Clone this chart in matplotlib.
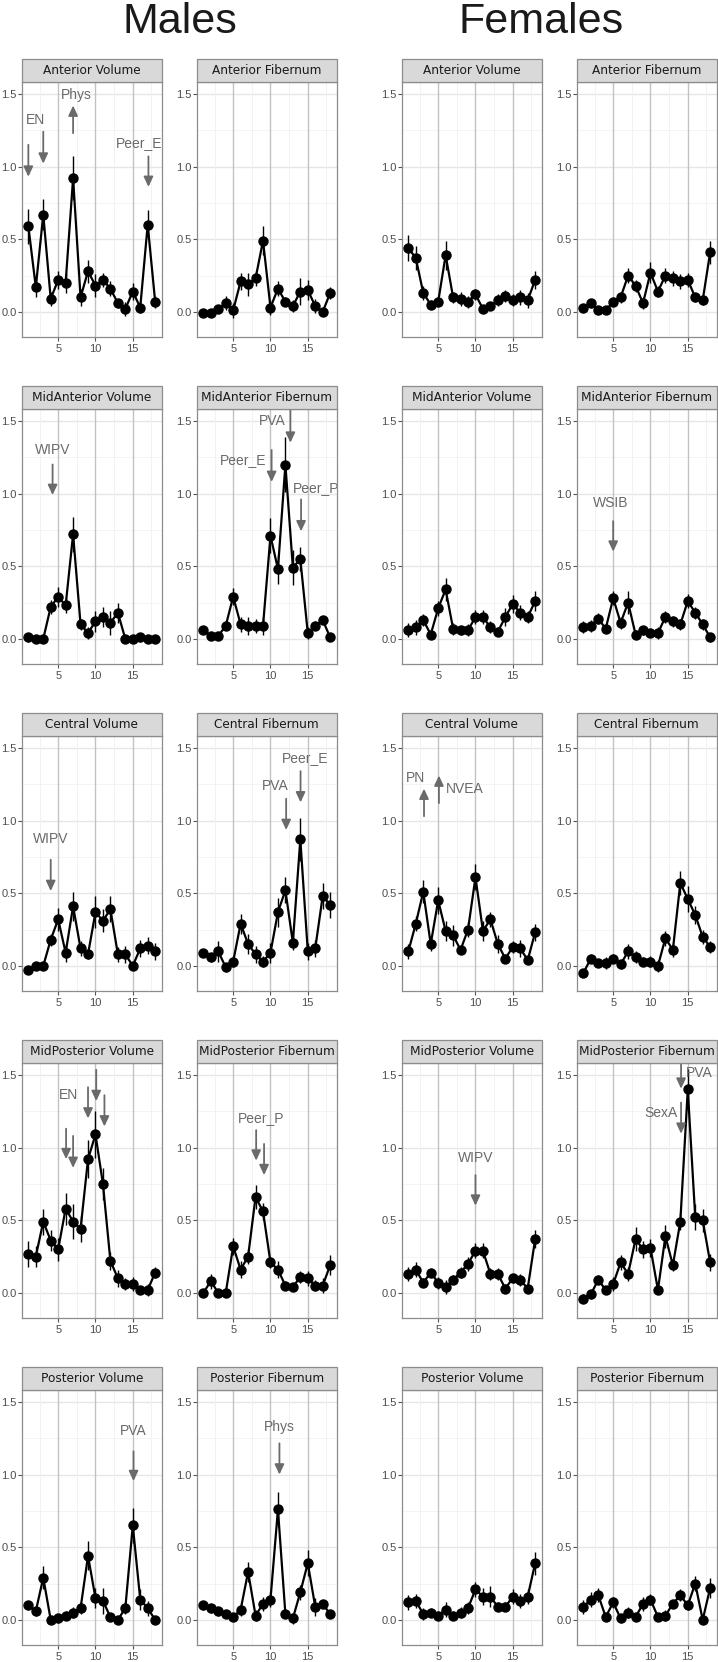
import matplotlib
matplotlib.use("Agg")
import matplotlib.pyplot as plt
from matplotlib.patches import Rectangle, FancyArrowPatch

plt.rcParams['font.family'] = ['Liberation Sans', 'DejaVu Sans']

x = list(range(1, 19))
regions = ["Anterior", "MidAnterior", "Central", "MidPosterior", "Posterior"]
measures = ["Volume", "Fibernum"]
sexes = ["Males", "Females"]

# values, one list per panel, plus error bar half-widths
male_anterior_volume = [0.59, 0.17, 0.67, 0.09, 0.22, 0.20, 0.92, 0.10, 0.28, 0.18, 0.22, 0.16, 0.06, 0.02, 0.14, 0.03, 0.60, 0.07]
male_anterior_volume_se = [0.12, 0.07, 0.11, 0.05, 0.06, 0.07, 0.15, 0.06, 0.08, 0.08, 0.05, 0.05, 0.03, 0.05, 0.06, 0.04, 0.10, 0.04]
male_anterior_fibernum = [-0.01, -0.01, 0.02, 0.06, 0.01, 0.21, 0.19, 0.23, 0.49, 0.03, 0.16, 0.07, 0.04, 0.14, 0.15, 0.04, 0.00, 0.13]
male_anterior_fibernum_se = [0.02, 0.02, 0.03, 0.05, 0.05, 0.06, 0.08, 0.05, 0.10, 0.05, 0.05, 0.03, 0.04, 0.09, 0.07, 0.05, 0.02, 0.04]
female_anterior_volume = [0.44, 0.37, 0.13, 0.05, 0.07, 0.39, 0.10, 0.09, 0.07, 0.12, 0.02, 0.04, 0.08, 0.11, 0.08, 0.10, 0.08, 0.22]
female_anterior_volume_se = [0.09, 0.08, 0.05, 0.03, 0.03, 0.10, 0.04, 0.05, 0.04, 0.04, 0.03, 0.03, 0.04, 0.04, 0.04, 0.05, 0.05, 0.06]
female_anterior_fibernum = [0.03, 0.06, 0.01, 0.01, 0.07, 0.10, 0.25, 0.18, 0.06, 0.27, 0.14, 0.25, 0.23, 0.21, 0.22, 0.10, 0.08, 0.41]
female_anterior_fibernum_se = [0.02, 0.03, 0.02, 0.02, 0.03, 0.04, 0.05, 0.04, 0.04, 0.07, 0.04, 0.05, 0.05, 0.05, 0.05, 0.03, 0.03, 0.08]

male_midanterior_volume = [0.01, 0.00, 0.00, 0.22, 0.29, 0.23, 0.72, 0.10, 0.04, 0.12, 0.15, 0.11, 0.18, 0.00, 0.00, 0.01, 0.00, 0.00]
male_midanterior_volume_se = [0.03, 0.03, 0.02, 0.05, 0.07, 0.05, 0.12, 0.04, 0.04, 0.07, 0.07, 0.08, 0.07, 0.02, 0.02, 0.03, 0.02, 0.02]
male_midanterior_fibernum = [0.06, 0.02, 0.02, 0.09, 0.29, 0.10, 0.09, 0.09, 0.09, 0.71, 0.48, 1.20, 0.49, 0.55, 0.04, 0.09, 0.13, 0.01]
male_midanterior_fibernum_se = [0.02, 0.02, 0.02, 0.03, 0.06, 0.05, 0.06, 0.05, 0.06, 0.12, 0.10, 0.19, 0.12, 0.08, 0.04, 0.03, 0.03, 0.02]
female_midanterior_volume = [0.06, 0.08, 0.13, 0.03, 0.21, 0.34, 0.07, 0.06, 0.06, 0.15, 0.15, 0.08, 0.05, 0.15, 0.24, 0.18, 0.15, 0.26]
female_midanterior_volume_se = [0.05, 0.05, 0.04, 0.03, 0.05, 0.08, 0.04, 0.03, 0.04, 0.05, 0.05, 0.04, 0.03, 0.06, 0.06, 0.05, 0.04, 0.07]
female_midanterior_fibernum = [0.08, 0.09, 0.14, 0.07, 0.28, 0.11, 0.25, 0.03, 0.06, 0.04, 0.04, 0.15, 0.12, 0.10, 0.26, 0.18, 0.10, 0.01]
female_midanterior_fibernum_se = [0.04, 0.04, 0.04, 0.03, 0.05, 0.04, 0.08, 0.03, 0.03, 0.03, 0.04, 0.04, 0.04, 0.04, 0.05, 0.04, 0.04, 0.03]

male_central_volume = [-0.03, 0.00, 0.00, 0.18, 0.32, 0.09, 0.41, 0.12, 0.08, 0.37, 0.31, 0.39, 0.08, 0.08, 0.00, 0.12, 0.14, 0.10]
male_central_volume_se = [0.02, 0.03, 0.03, 0.04, 0.08, 0.06, 0.10, 0.05, 0.03, 0.11, 0.08, 0.09, 0.05, 0.06, 0.03, 0.06, 0.06, 0.06]
male_central_fibernum = [0.09, 0.06, 0.10, -0.01, 0.03, 0.29, 0.15, 0.08, 0.03, 0.09, 0.37, 0.52, 0.16, 0.87, 0.10, 0.12, 0.48, 0.42]
male_central_fibernum_se = [0.02, 0.03, 0.07, 0.03, 0.04, 0.07, 0.07, 0.06, 0.04, 0.07, 0.10, 0.09, 0.05, 0.145, 0.06, 0.06, 0.09, 0.09]
female_central_volume = [0.10, 0.29, 0.51, 0.15, 0.45, 0.24, 0.21, 0.11, 0.25, 0.61, 0.24, 0.32, 0.15, 0.05, 0.13, 0.12, 0.04, 0.23]
female_central_volume_se = [0.05, 0.05, 0.08, 0.05, 0.09, 0.07, 0.07, 0.03, 0.05, 0.09, 0.07, 0.05, 0.06, 0.03, 0.04, 0.06, 0.03, 0.06]
female_central_fibernum = [-0.05, 0.05, 0.02, 0.02, 0.05, 0.01, 0.10, 0.06, 0.03, 0.03, 0.00, 0.19, 0.11, 0.57, 0.46, 0.35, 0.20, 0.13]
female_central_fibernum_se = [0.03, 0.03, 0.03, 0.04, 0.03, 0.03, 0.05, 0.04, 0.03, 0.04, 0.04, 0.05, 0.05, 0.08, 0.09, 0.06, 0.05, 0.04]

male_midposterior_volume = [0.27, 0.25, 0.49, 0.36, 0.30, 0.58, 0.49, 0.44, 0.92, 1.09, 0.75, 0.22, 0.10, 0.06, 0.06, 0.02, 0.02, 0.14]
male_midposterior_volume_se = [0.09, 0.07, 0.09, 0.07, 0.08, 0.11, 0.12, 0.09, 0.13, 0.16, 0.11, 0.06, 0.06, 0.04, 0.05, 0.03, 0.04, 0.04]
male_midposterior_fibernum = [0.00, 0.08, 0.00, 0.00, 0.32, 0.16, 0.25, 0.66, 0.56, 0.21, 0.16, 0.05, 0.04, 0.11, 0.10, 0.05, 0.05, 0.19]
male_midposterior_fibernum_se = [0.02, 0.05, 0.02, 0.02, 0.06, 0.06, 0.05, 0.08, 0.06, 0.04, 0.06, 0.03, 0.03, 0.04, 0.05, 0.04, 0.05, 0.07]
female_midposterior_volume = [0.13, 0.16, 0.07, 0.14, 0.07, 0.04, 0.09, 0.14, 0.20, 0.29, 0.29, 0.13, 0.13, 0.03, 0.10, 0.09, 0.03, 0.37]
female_midposterior_volume_se = [0.05, 0.05, 0.03, 0.03, 0.04, 0.05, 0.03, 0.04, 0.05, 0.05, 0.05, 0.04, 0.04, 0.03, 0.03, 0.04, 0.03, 0.06]
female_midposterior_fibernum = [-0.04, -0.01, 0.09, 0.02, 0.06, 0.21, 0.13, 0.37, 0.30, 0.31, 0.02, 0.39, 0.19, 0.49, 1.40, 0.52, 0.50, 0.21]
female_midposterior_fibernum_se = [0.03, 0.03, 0.03, 0.03, 0.05, 0.05, 0.05, 0.08, 0.06, 0.06, 0.03, 0.08, 0.04, 0.06, 0.14, 0.09, 0.08, 0.06]

male_posterior_volume = [0.10, 0.06, 0.29, 0.00, 0.01, 0.03, 0.05, 0.08, 0.44, 0.15, 0.13, 0.02, 0.00, 0.08, 0.65, 0.14, 0.08, 0.00]
male_posterior_volume_se = [0.03, 0.03, 0.08, 0.02, 0.03, 0.03, 0.04, 0.04, 0.10, 0.07, 0.09, 0.03, 0.02, 0.04, 0.12, 0.07, 0.05, 0.02]
male_posterior_fibernum = [0.10, 0.08, 0.06, 0.04, 0.02, 0.07, 0.33, 0.03, 0.11, 0.14, 0.76, 0.04, 0.01, 0.19, 0.39, 0.09, 0.11, 0.04]
male_posterior_fibernum_se = [0.03, 0.03, 0.03, 0.03, 0.02, 0.04, 0.07, 0.04, 0.05, 0.05, 0.12, 0.03, 0.04, 0.05, 0.09, 0.06, 0.03, 0.03]
female_posterior_volume = [0.12, 0.13, 0.04, 0.05, 0.03, 0.07, 0.03, 0.05, 0.08, 0.21, 0.16, 0.16, 0.09, 0.09, 0.16, 0.13, 0.16, 0.39]
female_posterior_volume_se = [0.05, 0.05, 0.04, 0.03, 0.03, 0.05, 0.03, 0.04, 0.04, 0.05, 0.06, 0.07, 0.03, 0.03, 0.05, 0.05, 0.05, 0.08]
female_posterior_fibernum = [0.09, 0.14, 0.17, 0.02, 0.12, 0.01, 0.05, 0.02, 0.11, 0.14, 0.02, 0.03, 0.11, 0.17, 0.10, 0.25, 0.00, 0.22]
female_posterior_fibernum_se = [0.05, 0.05, 0.05, 0.03, 0.04, 0.03, 0.04, 0.03, 0.05, 0.04, 0.03, 0.04, 0.03, 0.04, 0.03, 0.05, 0.02, 0.07]

series = {
    ("Males", "Anterior", "Volume"): (male_anterior_volume, male_anterior_volume_se),
    ("Males", "Anterior", "Fibernum"): (male_anterior_fibernum, male_anterior_fibernum_se),
    ("Females", "Anterior", "Volume"): (female_anterior_volume, female_anterior_volume_se),
    ("Females", "Anterior", "Fibernum"): (female_anterior_fibernum, female_anterior_fibernum_se),
    ("Males", "MidAnterior", "Volume"): (male_midanterior_volume, male_midanterior_volume_se),
    ("Males", "MidAnterior", "Fibernum"): (male_midanterior_fibernum, male_midanterior_fibernum_se),
    ("Females", "MidAnterior", "Volume"): (female_midanterior_volume, female_midanterior_volume_se),
    ("Females", "MidAnterior", "Fibernum"): (female_midanterior_fibernum, female_midanterior_fibernum_se),
    ("Males", "Central", "Volume"): (male_central_volume, male_central_volume_se),
    ("Males", "Central", "Fibernum"): (male_central_fibernum, male_central_fibernum_se),
    ("Females", "Central", "Volume"): (female_central_volume, female_central_volume_se),
    ("Females", "Central", "Fibernum"): (female_central_fibernum, female_central_fibernum_se),
    ("Males", "MidPosterior", "Volume"): (male_midposterior_volume, male_midposterior_volume_se),
    ("Males", "MidPosterior", "Fibernum"): (male_midposterior_fibernum, male_midposterior_fibernum_se),
    ("Females", "MidPosterior", "Volume"): (female_midposterior_volume, female_midposterior_volume_se),
    ("Females", "MidPosterior", "Fibernum"): (female_midposterior_fibernum, female_midposterior_fibernum_se),
    ("Males", "Posterior", "Volume"): (male_posterior_volume, male_posterior_volume_se),
    ("Males", "Posterior", "Fibernum"): (male_posterior_fibernum, male_posterior_fibernum_se),
    ("Females", "Posterior", "Volume"): (female_posterior_volume, female_posterior_volume_se),
    ("Females", "Posterior", "Fibernum"): (female_posterior_fibernum, female_posterior_fibernum_se),
}

# labels: (text, x, y); arrows: (x, y_from, y_to)
labels = {
    ("Males", "Anterior", "Volume"): [("EN", 2.0, 1.32), ("Phys", 7.4, 1.49), ("Peer_E", 15.8, 1.16)],
    ("Males", "MidAnterior", "Volume"): [("WIPV", 4.3, 1.30)],
    ("Males", "MidAnterior", "Fibernum"): [("PVA", 10.2, 1.50), ("Peer_E", 6.3, 1.23), ("Peer_P", 16.1, 1.04)],
    ("Females", "MidAnterior", "Fibernum"): [("WSIB", 4.7, 0.935)],
    ("Males", "Central", "Volume"): [("WIPV", 4.0, 0.87)],
    ("Males", "Central", "Fibernum"): [("PVA", 10.7, 1.24), ("Peer_E", 14.6, 1.43)],
    ("Females", "Central", "Volume"): [("PN", 1.9, 1.29), ("NVEA", 8.5, 1.22)],
    ("Males", "MidPosterior", "Volume"): [("EN", 6.4, 1.36)],
    ("Males", "MidPosterior", "Fibernum"): [("Peer_P", 8.8, 1.20)],
    ("Females", "MidPosterior", "Volume"): [("WIPV", 10.0, 0.93)],
    ("Females", "MidPosterior", "Fibernum"): [("PVA", 16.6, 1.51), ("SexA", 11.4, 1.24)],
    ("Males", "Posterior", "Volume"): [("PVA", 15.0, 1.30)],
    ("Males", "Posterior", "Fibernum"): [("Phys", 11.2, 1.33)],
}
arrows = {
    ("Males", "Anterior", "Volume"): [(1.0, 1.15, 0.93), (3.0, 1.24, 1.02), (7.0, 1.23, 1.42), (17.1, 1.07, 0.86)],
    ("Males", "MidAnterior", "Volume"): [(4.25, 1.20, 0.99)],
    ("Males", "MidAnterior", "Fibernum"): [(12.67, 1.62, 1.35), (10.15, 1.30, 1.08), (14.1, 0.96, 0.74)],
    ("Females", "MidAnterior", "Fibernum"): [(5.0, 0.81, 0.60)],
    ("Males", "Central", "Volume"): [(4.0, 0.73, 0.515)],
    ("Males", "Central", "Fibernum"): [(12.1, 1.15, 0.935), (14.03, 1.34, 1.125)],
    ("Females", "Central", "Volume"): [(3.1, 1.03, 1.22), (5.1, 1.12, 1.31)],
    ("Males", "MidPosterior", "Volume"): [(6.06, 1.13, 0.92), (7.0, 1.08, 0.86), (9.0, 1.415, 1.20),
                                          (10.1, 1.535, 1.32), (11.2, 1.36, 1.145)],
    ("Males", "MidPosterior", "Fibernum"): [(8.08, 1.12, 0.91), (9.14, 1.025, 0.81)],
    ("Females", "MidPosterior", "Volume"): [(10.0, 0.81, 0.60)],
    ("Females", "MidPosterior", "Fibernum"): [(14.1, 1.62, 1.405), (14.1, 1.31, 1.095)],
    ("Males", "Posterior", "Volume"): [(15.1, 1.16, 0.955)],
    ("Males", "Posterior", "Fibernum"): [(11.2, 1.215, 1.0)],
}

W, H = 718, 1662
fig = plt.figure(figsize=(W / 100, H / 100), dpi=100)
fig.patch.set_facecolor('white')

col_left = [22, 197, 402, 577]
row_top = [82, 409, 736, 1063, 1390]
pw, ph, strip_h = 139.5, 255, 23
border = '#8c8c8c'
note_col = '#6a6a6a'

for r, region in enumerate(regions):
    for s, sex in enumerate(sexes):
        for m, measure in enumerate(measures):
            key = (sex, region, measure)
            vals, se = series[key]
            c = s * 2 + m
            ax = fig.add_axes([col_left[c] / W, 1 - (row_top[r] + ph) / H, pw / W, ph / H])
            ax.set_xlim(0.15, 18.85)
            ax.set_ylim(-0.173, 1.582)
            ax.set_facecolor('white')

            # grid
            for gy in [-0.25, 0.25, 0.75, 1.25]:
                ax.axhline(gy, color='#f3f3f3', lw=0.6, zorder=0)
            for gy in [0, 0.5, 1.0, 1.5]:
                ax.axhline(gy, color='#e6e6e6', lw=1.0, zorder=0)
            for gx in [2.5, 7.5, 12.5, 17.5]:
                ax.axvline(gx, color='#f0f0f0', lw=0.6, zorder=0)
            for gx in [5, 10, 15]:
                ax.axvline(gx, color='#c2c2c2', lw=1.0, zorder=0.5)

            ax.errorbar(x, vals, yerr=se, fmt='none', ecolor='black', elinewidth=1.0, capsize=0, zorder=2)
            ax.plot(x, vals, '-o', color='black', lw=1.6, ms=6.5, zorder=3)

            for txt, tx, ty in labels.get(key, []):
                ax.text(tx, ty, txt, color=note_col, fontsize=10, ha='center', va='center', clip_on=True, zorder=4)
            for axx, y0, y1 in arrows.get(key, []):
                ax.add_patch(FancyArrowPatch((axx, y0), (axx, y1), arrowstyle='-|>,head_length=0.6,head_width=0.28',
                                             mutation_scale=10, color=note_col, lw=1.3, shrinkA=0, shrinkB=0, zorder=4))

            ax.set_xticks([5, 10, 15])
            ax.set_yticks([0.0, 0.5, 1.0, 1.5])
            ax.set_yticklabels(['0.0', '0.5', '1.0', '1.5'])
            ax.tick_params(axis='both', length=2.75, width=0.8, color='#555555', labelsize=8,
                           labelcolor='#4d4d4d')
            ax.tick_params(axis='x', pad=2.5)
            ax.tick_params(axis='y', pad=1.2)
            for sp in ax.spines.values():
                sp.set_color(border)
                sp.set_linewidth(0.9)

            sh = strip_h / ph
            ax.add_patch(Rectangle((0, 1), 1, sh, transform=ax.transAxes, clip_on=False,
                                   facecolor='#d9d9d9', edgecolor=border, lw=0.9, zorder=5))
            ax.text(0.5, 1 + sh / 2, f"{region} {measure}", transform=ax.transAxes, ha='center', va='center',
                    fontsize=8.7, family='DejaVu Sans', color='#1a1a1a', zorder=6)

fig.text(180 / W, 1 - 33 / H, "Males", fontsize=31, ha='center', va='baseline', color='#1a1a1a')
fig.text(541 / W, 1 - 33 / H, "Females", fontsize=31, ha='center', va='baseline', color='#1a1a1a')

fig.savefig('out.png', dpi=100)
